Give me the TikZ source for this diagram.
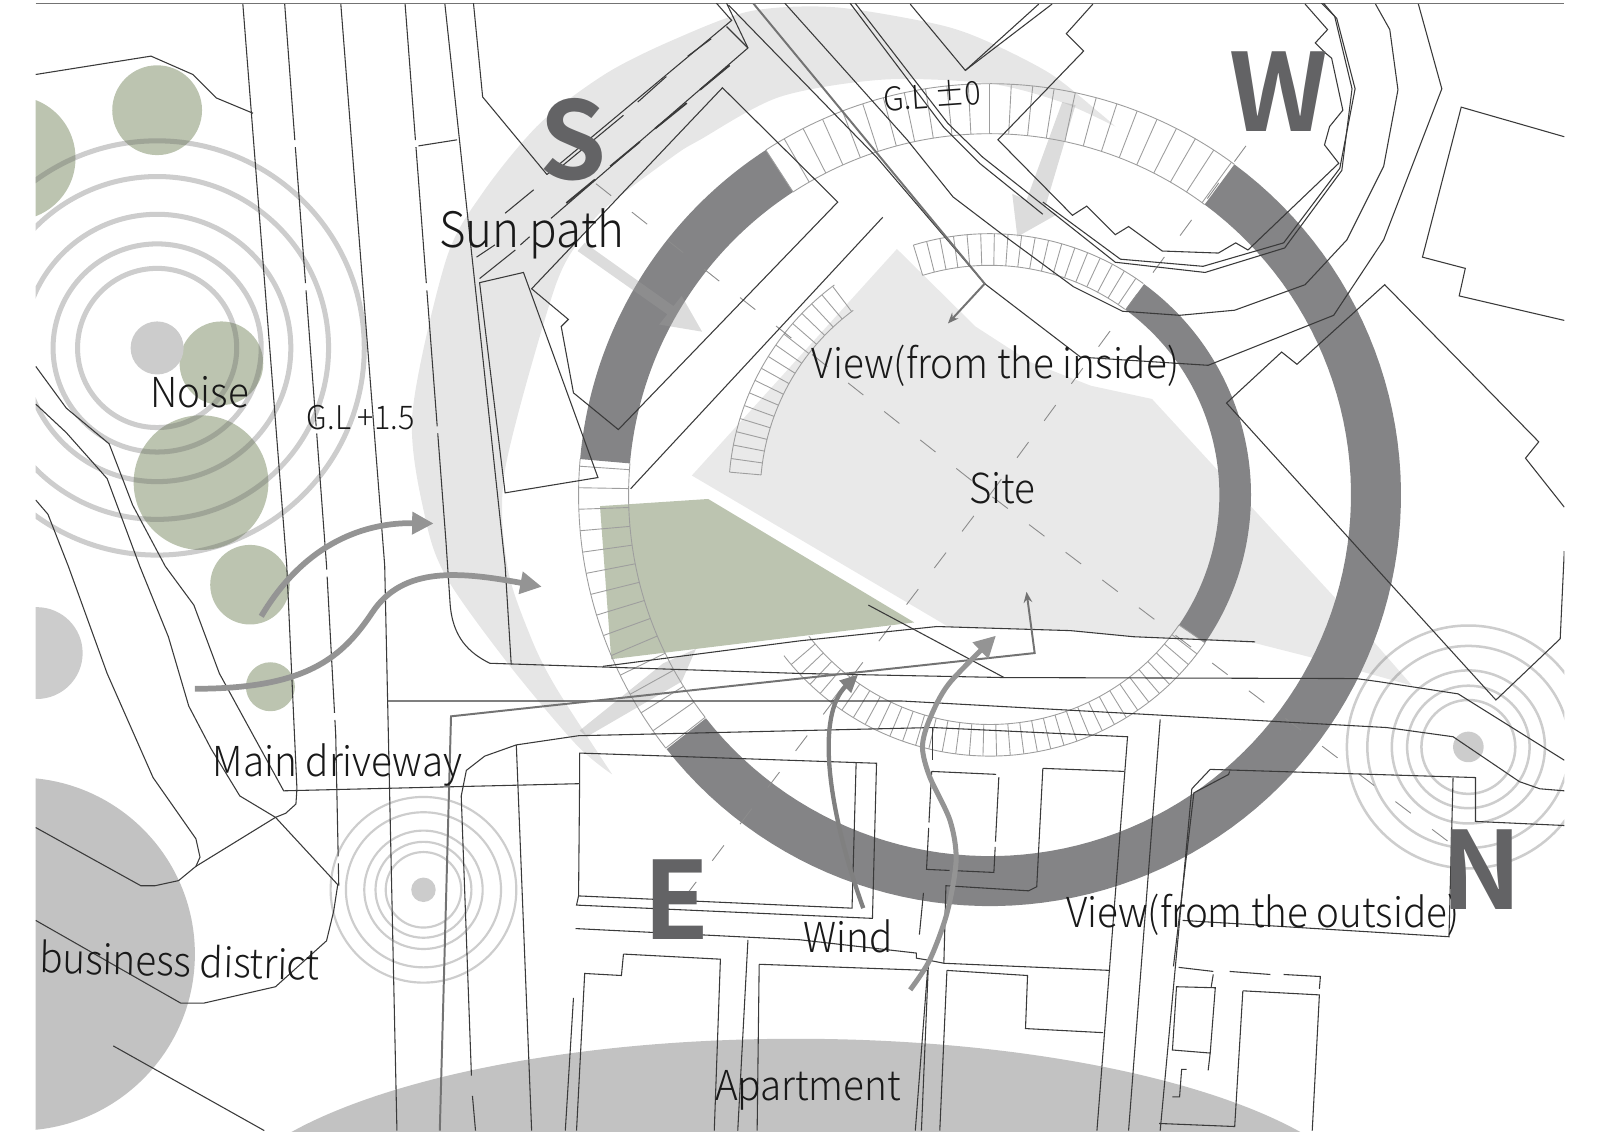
\documentclass[tikz,border=0pt]{standalone}
\usepackage{fontspec}
\setmainfont[FakeStretch=0.935]{Noto Sans CJK JP Light}
\newfontfamily\dirfont{Noto Sans CJK JP Bold}
\usetikzlibrary{arrows.meta, positioning}
\definecolor{ringGray}{HTML}{848486}
\definecolor{dirGray}{HTML}{636365}
\definecolor{treeGreen}{HTML}{BCC4B0}
\definecolor{sunGray}{HTML}{E6E6E6}
\definecolor{siteGray}{HTML}{E9E9E9}
\definecolor{lineBlack}{HTML}{3A3A3A}
\tikzset{
  road/.style={draw=lineBlack, line width=0.3pt},
  longdash/.style={road, dash pattern=on 38pt off 2pt},
  axisline/.style={draw=black!45, line width=0.25pt, dash pattern=on 5.4pt off 7.4pt},
  stairline/.style={draw=black!38, line width=0.25pt},
  tree/.style={fill=treeGreen},
  noisering/.style={draw=black!60, opacity=0.33, line width=1.4pt},
  flow/.style={draw=black!42, line width=1.6pt, -{Triangle[length=6pt,width=6pt]}},
  viewline/.style={draw=black!55, line width=0.55pt, -{Stealth[length=3pt,width=2.4pt]}},
  sunarrow/.style={fill=black!38, opacity=0.365},
  label/.style={anchor=base west, inner sep=0pt, text=black!90},
  big/.style={label, font=\fontsize{13.6}{14}\selectfont},
  mid/.style={label, font=\fontsize{11.5}{12}\selectfont},
  small/.style={label, font=\fontsize{9.1}{10}\selectfont},
  dirletter/.style={inner sep=0pt, text=dirGray, font=\dirfont\fontsize{30}{30}\selectfont},
}
% ring piece: inner radius, outer radius, from, to
\newcommand{\ringseg}[4]{
  \fill[ringGray] plot[domain=#3:#4, samples=90] ({970+#2*cos(\x)},{485+#2*sin(\x)})
    -- plot[domain=#4:#3, samples=90] ({970+#1*cos(\x)},{485+#1*sin(\x)}) -- cycle;
}
% stairs between two radii
\newcommand{\stairs}[4]{
  \draw[stairline] plot[domain=#3:#4, samples=70] ({970+#2*cos(\x)},{485+#2*sin(\x)});
  \draw[stairline] plot[domain=#3:#4, samples=70] ({970+#1*cos(\x)},{485+#1*sin(\x)});
  \pgfmathsetmacro\stepnext{#3+3}
  \foreach \a in {#3,\stepnext,...,#4}
    \draw[stairline] ({970+#1*cos(\a)},{485+#1*sin(\a)}) -- ({970+#2*cos(\a)},{485+#2*sin(\a)});
}
\begin{document}
\begin{tikzpicture}[x=0.01cm, y=-0.01cm]
  \useasboundingbox (0,0) rectangle (1568,1108.4);
  \draw[black!55, line width=0.35pt] (35,3.6) -- (1533,3.6);
  \begin{scope}
    \clip (35,3.6) rectangle (1533,1108.4);

    % sun path
    \fill[sunGray] plot[smooth] coordinates {(1093,124) (1078,111) (1029,72) (964,39) (915,23) (817,7) (735,11) (660,39) (594,72) (529,121) (473,189) (437,255) (404,407) (418,513) (440,570) (500,653) (565,730) (600,759)}
      -- plot[smooth] coordinates {(600,759) (545,674) (520,624) (497,554) (495,460) (542,287) (568,235) (594,203) (660,153) (686,137) (764,95) (866,78) (970,82) (1040,100) (1093,124)} -- cycle;

    % site
    \fill[siteGray] (678,466) -- (879,244) -- (956,320) -- (1010,355) -- (1069,378) -- (1129,391) -- (1279,554) -- (1314,592) -- (1384,672) -- (1284,644) -- (1229,630) -- (1111,624) -- (1049,618) -- (929,614) -- cycle;
    \fill[treeGreen] (588,496) -- (694,489) -- (896,610) -- (599,646) -- cycle;

    % grey areas
    \fill[black!24] (18,935) circle[radius=173];
    \fill[black!24] (780,1200) ellipse[x radius=570, y radius=182];
    \fill[black!20] (36,640) circle[radius=45];

    % trees
    \foreach \tx/\ty/\tr in {154/108/44, 13/155/61, 217/356/41, 197/473/66, 245/573/39, 265/673/24}
      \fill[tree] (\tx,\ty) circle[radius=\tr];

    % noise
    \fill[black!20] (154,341) circle[radius=26];
    \fill[black!20] (415,872) circle[radius=12];
    \fill[black!20] (1439,732) circle[radius=15];
    \foreach \nr in {78,102,131,168,203}
      \draw[noisering] (154,341) circle[radius=\nr];
    \foreach \nr in {37,47,58,76,91}
      \draw[noisering, line width=0.6pt] (415,872) circle[radius=\nr];
    \foreach \nr in {46,60,75,99,119}
      \draw[noisering, line width=0.7pt] (1439,732) circle[radius=\nr];

    % rings
    \ringseg{354}{403}{-175}{-123}
    \ringseg{354}{403}{-53.5}{141.8}
    \ringseg{225}{256}{-53.8}{34.5}
    \stairs{354}{403}{-123}{-53.5}
    \stairs{354}{403}{-218}{-175}
    \stairs{225}{256}{-107}{-54}
    \stairs{225}{256}{-175}{-126.5}
    \stairs{225}{256}{34.5}{142}

    % sun arrows
    \fill[sunarrow] (566,246) -- (573,238) -- (660,300) -- (668,290) -- (688,325) -- (646,318) -- (654,308) -- cycle;
    \fill[sunarrow] (1041,100) -- (1054,103) -- (1024,204) -- (1036,210) -- (997,232) -- (992,190) -- (1006,196) -- cycle;
    \fill[sunarrow] (568,716) -- (575,722) -- (668,668) -- (682,636) -- (650,650) -- cycle;

    % axes
    \draw[axisline] (584,180) -- (970,485) -- (1421,826);
    \draw[axisline] (1221,143) -- (970,485) -- (662,891);

    % roads, left
    \draw[road] (35,73) -- (148,55) -- (189,73) -- (212,96) -- (248,111);
    \draw[road] (238,4) -- (281,554) -- (291,773) -- (290,788) -- (280,797) -- (270,801);
    \draw[longdash] (279,4) -- (320,554) -- (329,720) -- (332,868);
    \draw[road] (334,4) -- (377,554) -- (389,1108);
    \draw[longdash] (397,4) -- (437,530);
    \draw[road] (437,530) -- (441,590) .. controls (443,625) and (460,640) .. (480,650) -- (784,660) -- (984,664) -- (1329,665) -- (1351,668) -- (1429,680) -- (1533,745);
    \draw[road] (436,4) -- (495,554) -- (501,651);
    \draw[road] (410,143) -- (448,137);
    \draw[road] (464,3) -- (473,95) -- (536,171);
    \draw[road] (470,277) -- (513,267) -- (586,468) -- (495,483) -- cycle;
    \draw[road] (35,359) -- (65,400) -- (107,435) -- (130,495) -- (162,555) -- (190,593) -- (215,660) -- (250,724) -- (278,775) -- (568,768);
    \draw[road] (35,396) -- (65,424) -- (105,469) -- (137,555) -- (165,624) -- (185,692) -- (207,734) -- (235,780) -- (270,801) -- (331,867) -- (327,893) -- (320,922) -- (270,967) -- (200,983) -- (177,983) -- (35,902);
    \draw[road] (35,490) -- (47,504) -- (67,555) -- (105,660) -- (150,762) -- (192,822) -- (196,840) -- (192,849) -- (175,863) -- (152,868) -- (138,868) -- (35,811);
    \draw[road] (192,849) -- (270,801);
    \draw[road] (111,1025) -- (259,1108);

    % strip and blocks, south
    \draw[road] (702,3) -- (717,20) -- (536,171);
    \draw[road] (712,3) -- (733,47) -- (540,214);
    \draw[road] (712,26) -- (733,47);
    \draw[road] (542,170) -- (611,113);
    \draw[road] (625,100) -- (653,75);
    \draw[road] (674,55) -- (697,38);
    \draw[road, line width=0.5pt] (715,64) -- (686,88);
    \draw[road, line width=0.5pt] (673,101) -- (642,126);
    \draw[road, line width=0.5pt] (627,139) -- (598,163);
    \draw[road, line width=0.5pt] (583,176) -- (555,199);
    \draw[road] (523,186) -- (495,209);
    \draw[road] (485,240) -- (467,252);
    \draw[road] (519,232) -- (510,240);
    \draw[road] (505,245) -- (470,273);
    \draw[road] (708,86) -- (821,198) -- (606,421) -- (562,385) -- (550,320) -- (557,313) -- (521,283) -- cycle;
    \draw[road] (618,479) -- (865,213);

    % roads and blocks, west
    \draw[road] (892,4) -- (946,69) -- (1018,4);
    \draw[road] (946,69) -- (1031,4);
    \draw[road] (1071,4) -- (1045,33) -- (1062,50) -- (978,137) -- (1051,211) -- (1065,202) -- (1093,230) -- (1106,222) -- (1139,246) -- (1194,248) -- (1211,238) -- (1223,245) -- (1312,160) -- (1298,142) -- (1303,124) -- (1316,108) -- (1305,57) -- (1299,52) -- (1289,42) -- (1301,29) -- (1279,4);
    \draw[road] (1022,198) -- (1098,254) -- (1179,261) -- (1258,238) -- (1313,165) -- (1328,87) -- (1310,18) -- (1295,3);
    \draw[road] (838,3) -- (929,121) -- (963,154) -- (1093,257) -- (1181,267) -- (1259,243) -- (1315,167) -- (1325,87) -- (1308,16) -- (1297,3);
    \draw[road] (833,3) -- (925,125) -- (960,160) -- (1022,210);
    \draw[road] (769,3) -- (889,137) -- (934,193) -- (980,228) -- (1052,281) -- (1100,305) -- (1156,309) -- (1210,304) -- (1279,279) -- (1320,235) -- (1356,163) -- (1370,88) -- (1362,29) -- (1348,4);
    \draw[road] (714,5) -- (859,154) -- (965,278) -- (1059,350) -- (1184,358) -- (1307,309) -- (1356,235) -- (1413,87) -- (1390,4);

    % blocks, north
    \draw[road] (1533,134) -- (1432,105) -- (1394,252) -- (1436,263) -- (1430,290) -- (1533,314);
    \draw[road] (1533,497) -- (1495,449) -- (1508,433) -- (1357,279) -- (1271,357) -- (1256,345) -- (1202,395) -- (1346,554) -- (1466,686) -- (1529,626) -- (1533,540);

    % roads, middle
    \draw[road] (851,593) -- (984,664);
    \draw[road] (591,653) -- (784,628) -- (918,614) -- (1049,618) -- (1111,624) -- (1230,629);
    \draw[road] (380,687) -- (884,687) -- (1359,713) -- (1424,722) -- (1489,766) -- (1509,773) -- (1533,775);
    \draw[road] (466,1108) -- (463,1074);
    \draw[road] (462,1054) -- (452,780) -- (457,755) -- (475,741) -- (506,730) -- (567,721) -- (784,716) -- (914,713) -- (1105,722) -- (1075,1108);
    \draw[road] (506,730) -- (521,1108);

    % blocks, east
    \draw[road] (568,768) -- (568,738) -- (859,748) -- (855,900) -- (565,887) -- (567,878) -- (835,890) -- (839,748);
    \draw[road] (567,878) -- (568,768);
    \draw[road] (564,910) -- (784,921) -- (898,934) -- (898,939) -- (910,941) -- (925,944) -- (1088,951);
    \draw[road] (744,945) -- (909,951) -- (897,1108);
    \draw[road] (910,941) -- (903,1108);
    \draw[road] (611,935) -- (706,940) -- (700,1108);
    \draw[road] (611,935) -- (609,956) -- (573,954) -- (565,1108);
    \draw[road] (562,978) -- (554,1108);
    \draw[road] (744,945) -- (742,1108);
    \draw[road] (733,921) -- (723,1108);
    \draw[road, dash pattern=on 18pt off 1.5pt] (913,756) -- (979,759) -- (974,855) -- (908,852) -- cycle;
    \draw[road] (914,713) -- (914,745);
    \draw[road] (905,875) -- (901,916);
    \draw[road] (1022,753) -- (1102,756);
    \draw[road] (1022,753) -- (1016,869) -- (1008,873) -- (927,868) -- (925,944);
    \draw[road] (928,951) -- (1007,956) -- (1005,1008) -- (1081,1012);
    \draw[road] (928,951) -- (921,1108);

    % blocks, apartment side
    \draw[road] (1137,705) -- (1106,1108);
    \draw[road] (1168,773) -- (1186,754) -- (1446,762) -- (1446,805) -- (1533,809);
    \draw[road] (1168,773) -- (1137,1108);
    \draw[road] (1205,756) -- (1204,759) -- (1170,777) -- (1150,947);
    \draw[road] (1424,762) -- (1420,918) -- (1159,902);
    \draw[road] (1155,948) -- (1189,952);
    \draw[road] (1205,952) -- (1245,955);
    \draw[road] (1258,955) -- (1294,957) -- (1293,969);
    \draw[road] (1189,955) -- (1187,967);
    \draw[road] (1153,967) -- (1191,968) -- (1186,1032) -- (1149,1029) -- cycle;
    \draw[road] (1186,1032) -- (1184,1049);
    \draw[road] (1218,971) -- (1293,975) -- (1286,1108);
    \draw[road] (1218,971) -- (1210,1104) -- (1136,1101);
    \draw[road] (1163,1048) -- (1158,1048) -- (1156,1075) -- (1149,1075);

    % view lines
    \draw[viewline] (738,3) -- (965,278) -- (929,317);
    \draw[viewline] (431,1108) -- (442,702) -- (784,665) -- (1014,640) -- (1006,580);

    % noise and wind arrows
    \draw[flow] (256,604) .. controls (300,530) and (360,512) .. (425,513);
    \draw[flow] (191,675) .. controls (300,675) and (335,645) .. (365,600) .. controls (395,555) and (450,560) .. (531,575);
    \draw[flow, draw=black!50, line width=1.2pt, -{Triangle[length=5pt,width=4.5pt]}] (846,890) .. controls (810,790) and (800,700) .. (841,661);
    \draw[flow, line width=1.4pt] plot[smooth] coordinates {(892,970) (911,941) (928,895) (937,843) (931,804) (911,761) (904,732) (911,705) (930,670) (976,623)};
  \end{scope}

  % labels
  \node[big] (sunlabel) at (430,242.5) {Sun path};
  \node[mid] (noiselabel) at (147,399) {Noise};
  \node[small] (glwest) at (300,421) {G.L +1.5};
  \node[small, rotate=4] (gleast) at (866,109) {G.L ±0};
  \node[mid] (viewin) at (795,370.6) {View(from the inside)};
  \node[mid] (sitelabel) at (949,493.7) {Site};
  \node[mid] (mainlabel) at (208,761) {Main driveway};
  \node[mid, rotate=-1.5] (bizlabel) at (38,953.4) {business district};
  \node[mid] (windlabel) at (787,933) {Wind};
  \node[mid] (viewout) at (1044,908.5) {View(from the outside)};
  \node[mid] (aptlabel) at (700,1078) {Apartment};
  \node[dirletter] (dirS) at (562,137) {S};
  \node[dirletter] (dirW) at (1253,90) {W};
  \node[dirletter] (dirE) at (663,882) {E};
  \node[dirletter] (dirN) at (1452,852) {N};
\end{tikzpicture}
\end{document}
